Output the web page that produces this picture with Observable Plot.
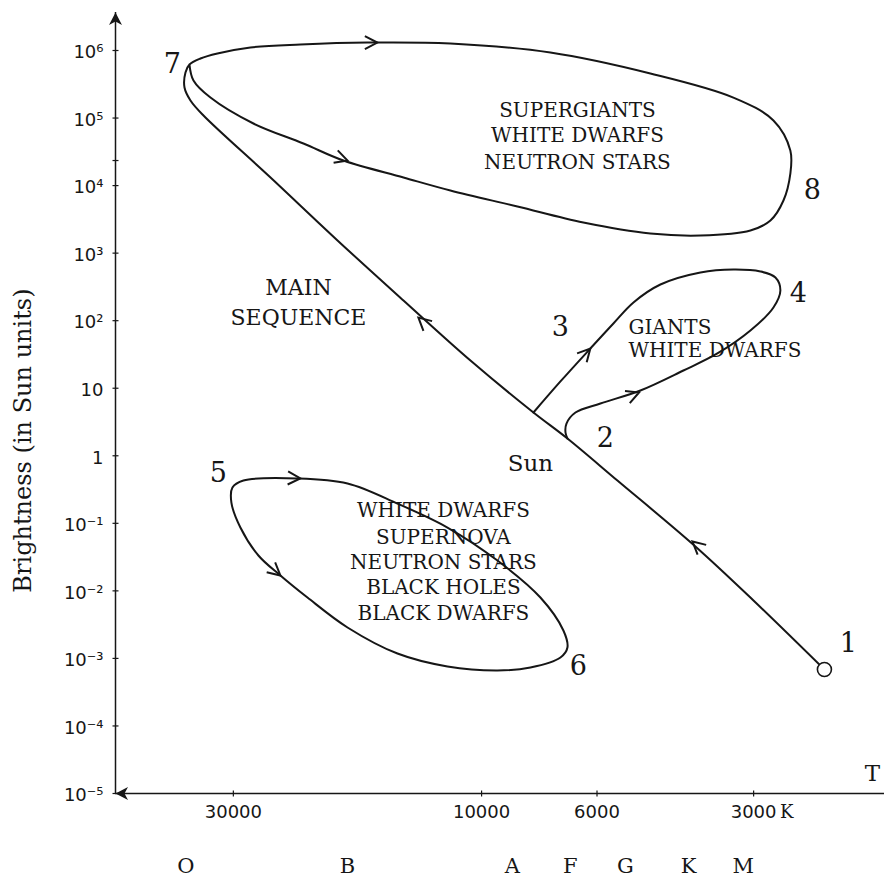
<!DOCTYPE html>
<html>
<head>
<meta charset="utf-8">
<script src="https://cdn.jsdelivr.net/npm/d3@7"></script>
<script src="https://cdn.jsdelivr.net/npm/@observablehq/plot@0.6"></script>
<style>
  html, body { margin: 0; padding: 0; background: #ffffff; }
</style>
</head>
<body>
<div id="chart"></div>
<script>
// ---------------- data (temperature T in K, brightness L in Sun units) ----------------
const xDomain = [50540, 1681];          // temperature at the left / right end of the T axis
const yDomain = [1e-5, 1e6];
const yAxisTop = 3.65e6;                // where the brightness axis arrow ends

const xTickValues = [30000, 10000, 6000, 3000];
const xTickLabels = ["30000", "10000", "6000", "3000"];

const yTickValues = [1e-5, 1e-4, 1e-3, 1e-2, 1e-1, 1, 10, 100, 1e3, 1e4, 1e5, 1e6, 2.35e4];
const yTickLabels = ["10⁻⁵", "10⁻⁴", "10⁻³", "10⁻²", "10⁻¹", "1", "10", "10²", "10³", "10⁴", "10⁵", "10⁶", ""];

const spectralClasses = ["O", "B", "A", "F", "G", "K", "M"];
const spectralTemps   = [37000, 18100, 8730, 6750, 5290, 4000, 3140];

// main sequence: from the newborn star (1) up to point 7
const mainSequence = [
  [2193, 6.85e-4], [3002, 7.2e-3], [3882, 0.0454], [5482, 0.43], [6839, 1.8],
  [7949, 4.37], [10505, 25.7], [14130, 199], [18920, 1540], [25450, 13180],
  [34240, 1.09e5], [36270, 1.82e5], [37240, 2.83e5], [37080, 4.72e5], [36430, 6.2e5]
];

// supergiant loop: 7 -> top -> 8 -> bottom -> back to 7
const supergiantLoop = [
  [36430, 6.2e5], [34700, 7.61e5], [32190, 9.03e5], [27820, 1.108e6], [22300, 1.227e6],
  [16570, 1.313e6], [11480, 1.27e6], [7375, 9.34e5], [4738, 4.57e5], [3281, 2.01e5],
  [2748, 9.2e4], [2550, 3.31e4], [2550, 1.51e4], [2629, 6020], [2785, 3043],
  [3043, 2163], [3796, 1824], [4738, 1953], [6374, 2841], [8533, 4900],
  [11480, 8460], [14130, 13180], [18430, 23510], [22000, 42000], [27450, 83000],
  [33200, 2.01e5], [35790, 3.6e5], [36430, 6.2e5]
];

// giants loop: branch 3 up to 4, back along branch 2
const giantsLoop = [
  [7949, 4.37], [7054, 12.6], [6180, 38.7], [5580, 90.8], [5106, 186],
  [4532, 343], [3796, 517], [3281, 572], [2911, 535], [2724, 436],
  [2665, 280], [2748, 157], [3043, 71.5], [3522, 32.7], [4093, 18.3],
  [4952, 9.25], [5910, 5.94], [6600, 4.37], [6868, 3.0], [6898, 2.21], [6839, 1.8]
];

// white dwarf loop between 5 and 6 (closed)
const dwarfLoop = [
  [7054, 1.03e-3], [8056, 7.33e-4], [9322, 6.62e-4], [11630, 7.6e-4], [14510, 1.18e-3],
  [18100, 2.87e-3], [21610, 7.97e-3], [24360, 0.0169], [26850, 0.0334], [29080, 0.0867],
  [30260, 0.203], [30120, 0.339], [28690, 0.43], [22590, 0.461], [18100, 0.389],
  [14510, 0.196], [11630, 0.0867], [9322, 0.0281], [7708, 7.97e-3], [6962, 2.59e-3],
  [6839, 1.45e-3]
];

// direction arrows: [T, L, path, reversed]
const arrows = [
  [15860, 1.31e6, "track", false],
  [18100, 23500, "track", true],
  [13225, 111, "track", false],
  [3932, 0.0538, "track", false],
  [6180, 38.7, "giants", false],
  [4982, 8.65, "giants", true],
  [22300, 0.461, "dwarfs", false],
  [24360, 0.0169, "dwarfs", true]
];

const stagePoints = [
  ["1", 1972, 1.66e-3], ["2", 5780, 1.8], ["3", 7054, 79.3], ["4", 2460, 253],
  ["5", 32050, 0.546], ["6", 6513, 7.6e-4], ["7", 39300, 6.2e5], ["8", 2313, 8460]
];

const supergiantText = [["SUPERGIANTS", 1.29e5], ["WHITE DWARFS", 55150], ["NEUTRON STARS", 21970]];
const supergiantTextT = 6543;
const giantText = [["GIANTS", 79.3], ["WHITE DWARFS", 36.2]];
const giantTextT = 5220;
const dwarfText = [["WHITE DWARFS", 0.155], ["SUPERNOVA", 0.0617], ["NEUTRON STARS", 0.0263],
                   ["BLACK HOLES", 0.0112], ["BLACK DWARFS", 4.62e-3]];
const dwarfTextT = 11840;
const mainSeqText = [["MAIN", 310], ["SEQUENCE", 111]];
const mainSeqTextT = 22490;
const sunLabel = ["Sun", 8056, 0.768];
const tLabel = ["T", 1774, 1.98e-5];
const yTitle = ["Brightness (in Sun units)", 75960, 1.68];
const newbornStar = [[2193, 6.85e-4]];

// ---------------- layout ----------------
const W = 884, H = 877, mL = 115, mR = 0, mT = 50, mB = 84;
const ink = "#161616";
const serif = "'DejaVu Serif', serif";
const sans = "'DejaVu Sans', sans-serif";

const xs = d3.scaleLog().domain(xDomain).range([mL, W - mR]);
const ys = d3.scaleLog().domain(yDomain).range([H - mB, mT]);

const track = mainSequence.concat(supergiantLoop.slice(1));
const paths = {track: [track, false], giants: [giantsLoop, false], dwarfs: [dwarfLoop, true]};

function tangentAngle(pts, closed, T, L) {
  const P = pts.map(([t, l]) => [xs(t), ys(l)]);
  const q = [xs(T), ys(L)];
  const n = P.length;
  const segs = closed ? n : n - 1;
  let best = Infinity, bi = 0, bt = 0;
  for (let i = 0; i < segs; i++) {
    const a = P[i], b = P[(i + 1) % n];
    const dx = b[0] - a[0], dy = b[1] - a[1];
    const len2 = dx * dx + dy * dy || 1;
    let t = ((q[0] - a[0]) * dx + (q[1] - a[1]) * dy) / len2;
    t = Math.max(0, Math.min(1, t));
    const ex = a[0] + t * dx - q[0], ey = a[1] + t * dy - q[1];
    const d = ex * ex + ey * ey;
    if (d < best) { best = d; bi = i; bt = t; }
  }
  const at = i => closed ? P[((i % n) + n) % n] : P[Math.max(0, Math.min(n - 1, i))];
  const tan = i => {
    const a = at(i - 1), b = at(i + 1);
    const dx = b[0] - a[0], dy = b[1] - a[1];
    const l = Math.hypot(dx, dy) || 1;
    return [dx / l, dy / l];
  };
  const t0 = tan(bi), t1 = tan(bi + 1);
  const tx = t0[0] * (1 - bt) + t1[0] * bt, ty = t0[1] * (1 - bt) + t1[1] * bt;
  return Math.atan2(ty, tx) * 180 / Math.PI;
}

const arrowData = arrows.map(([T, L, p, rev]) => {
  const [pts, closed] = paths[p];
  return {T, L, angle: tangentAngle(pts, closed, T, L) + (rev ? 180 : 0)};
});

const chevron = {
  draw(ctx) {
    ctx.moveTo(-12.5, -6.5);
    ctx.lineTo(0, 0);
    ctx.lineTo(-12.5, 6.5);
  }
};
const arrowHead = {
  draw(ctx) {
    ctx.moveTo(0, 0);
    ctx.lineTo(-12.5, -6.5);
    ctx.lineTo(-9, 0);
    ctx.lineTo(-12.5, 6.5);
    ctx.closePath();
  }
};
const hTick = {draw(ctx) { ctx.moveTo(-3, 0); ctx.lineTo(3, 0); }};
const vTick = {draw(ctx) { ctx.moveTo(0, -3); ctx.lineTo(0, 3); }};

const lineOpts = {x: d => d[0], y: d => d[1], stroke: ink, strokeWidth: 2, curve: "catmull-rom"};

const textBlock = (rows, T, opts) => Plot.text(rows, {
  x: () => T, y: d => d[1], text: d => d[0], fill: ink, fontFamily: serif,
  lineAnchor: "middle", ...opts
});

const yLabelled = yTickValues.map((v, i) => ({v, label: yTickLabels[i]})).filter(d => d.label);
const xLabelled = xTickValues.map((v, i) => ({v, label: xTickLabels[i]}));

const chart = Plot.plot({
  width: W, height: H,
  marginLeft: mL, marginRight: mR, marginTop: mT, marginBottom: mB,
  x: {type: "log", domain: xDomain, axis: null},
  y: {type: "log", domain: yDomain, axis: null},
  style: {background: "#ffffff", color: ink},
  marks: [
    // axes
    Plot.ruleY([yDomain[0]], {stroke: ink, strokeWidth: 1.5}),
    Plot.ruleX([xDomain[0]], {y1: yDomain[0], y2: yAxisTop, stroke: ink, strokeWidth: 1.5}),
    Plot.dot([{T: xDomain[0], L: yAxisTop, a: -90}, {T: xDomain[0], L: yDomain[0], a: 180}],
      {x: "T", y: "L", rotate: "a", symbol: arrowHead, fill: ink, stroke: "none", r: 6}),
    Plot.dot(yTickValues, {x: () => xDomain[0], y: d => d, symbol: hTick, stroke: ink,
      fill: "none", strokeWidth: 1.2, r: 3}),
    Plot.dot(xTickValues, {x: d => d, y: () => yDomain[0], symbol: vTick, stroke: ink,
      fill: "none", strokeWidth: 1.2, r: 3}),
    Plot.text(yLabelled, {x: () => xDomain[0], y: "v", text: "label", textAnchor: "end",
      dx: -12, dy: 2, fontFamily: sans, fontSize: 18, fill: ink, lineAnchor: "middle"}),
    Plot.text(xLabelled, {x: "v", y: () => yDomain[0], text: "label", dy: 19,
      fontFamily: sans, fontSize: 18, fill: ink, lineAnchor: "middle"}),
    Plot.text(["K"], {x: () => 3000, y: () => yDomain[0], dx: 33, dy: 19, fontFamily: serif,
      fontSize: 18, fill: ink, lineAnchor: "middle"}),
    // spectral classes
    Plot.text(spectralClasses, {x: (d, i) => spectralTemps[i], y: () => yDomain[0], dy: 73,
      text: d => d, fontFamily: serif, fontSize: 21, fill: ink, lineAnchor: "middle"}),
    // curves
    Plot.line(track, lineOpts),
    Plot.line(giantsLoop, lineOpts),
    Plot.line(dwarfLoop, {...lineOpts, curve: "catmull-rom-closed"}),
    Plot.dot(arrowData, {x: "T", y: "L", rotate: "angle", symbol: chevron, fill: "none",
      stroke: ink, strokeWidth: 2, r: 6}),
    Plot.dot(newbornStar, {x: d => d[0], y: d => d[1], r: 7, fill: "#ffffff", stroke: ink, strokeWidth: 1.6}),
    // labels
    Plot.text(stagePoints, {x: d => d[1], y: d => d[2], text: d => d[0], fontFamily: serif,
      fontSize: 27, fill: ink, lineAnchor: "middle"}),
    textBlock(supergiantText, supergiantTextT, {fontSize: 20}),
    textBlock(giantText, giantTextT, {fontSize: 20, textAnchor: "start"}),
    textBlock(dwarfText, dwarfTextT, {fontSize: 20}),
    textBlock(mainSeqText, mainSeqTextT, {fontSize: 22}),
    Plot.text([sunLabel], {x: d => d[1], y: d => d[2], text: d => d[0], fontFamily: serif,
      fontSize: 23, fill: ink, lineAnchor: "middle"}),
    Plot.text([tLabel], {x: d => d[1], y: d => d[2], text: d => d[0], fontFamily: serif,
      fontSize: 23, fill: ink, lineAnchor: "middle"}),
    Plot.text([yTitle], {x: d => d[1], y: d => d[2], text: d => d[0], fontFamily: serif,
      fontSize: 24, fill: ink, rotate: -90, lineAnchor: "middle"})
  ]
});

document.getElementById("chart").appendChild(chart);
</script>
</body>
</html>
